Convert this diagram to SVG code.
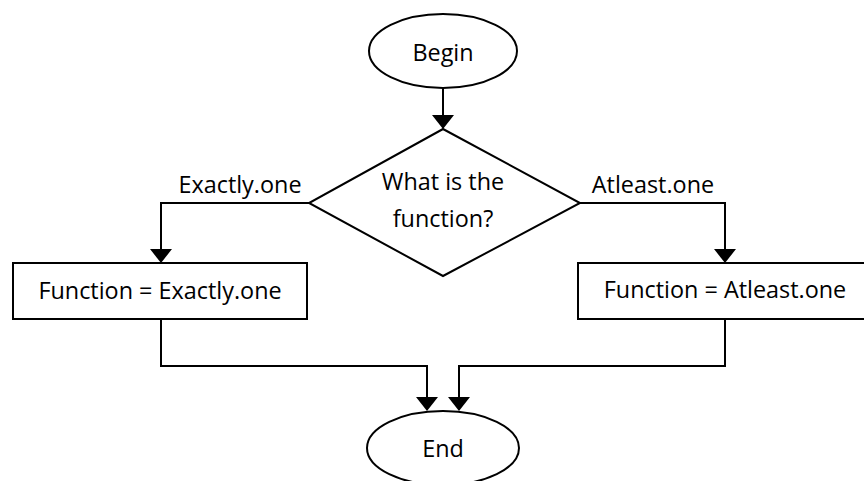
<svg xmlns="http://www.w3.org/2000/svg" width="864" height="481" viewBox="0 0 864 481">
  <defs>
    <style>
      .shape { fill: #fff; stroke: #000; stroke-width: 2; }
      .conn { fill: none; stroke: #000; stroke-width: 2; }
      .head { fill: #000; }
      .lbl { font-family: "Open Sans", "Liberation Sans", sans-serif; font-size: 23.4px; fill: #000; text-anchor: middle; }
    </style>
  </defs>
  <rect width="864" height="481" fill="#fff"/>

  <!-- connector lines with their filled arrowheads -->
  <g id="connectors">
    <path class="conn" d="M443,88 V116"/>
    <path class="head" d="M432,115 L454,115 L443,129 Z"/>
    <path class="conn" d="M309,203 H161 V250"/>
    <path class="head" d="M150,249 L172,249 L161,263 Z"/>
    <path class="conn" d="M580,203 H725 V250"/>
    <path class="head" d="M714,249 L736,249 L725,263 Z"/>
    <path class="conn" d="M161,319 V366 H427 V398"/>
    <path class="head" d="M416,397 L438,397 L427,411 Z"/>
    <path class="conn" d="M725,319 V366 H459 V398"/>
    <path class="head" d="M448,397 L470,397 L459,411 Z"/>
  </g>

  <g id="edge-label-exactly">
    <text class="lbl" x="240" y="193">Exactly.one</text>
  </g>
  <g id="edge-label-atleast">
    <text class="lbl" x="653" y="193">Atleast.one</text>
  </g>

  <g id="begin">
    <ellipse class="shape" cx="443" cy="51" rx="74" ry="37"/>
    <text class="lbl" x="443" y="61">Begin</text>
  </g>

  <g id="decision">
    <polygon class="shape" points="443,129 580,203 443,276 309,203"/>
    <text class="lbl" x="443" y="190">What is the</text>
    <text class="lbl" x="443" y="227">function?</text>
  </g>

  <g id="set-exactly">
    <rect class="shape" x="13" y="263" width="294" height="56"/>
    <text class="lbl" x="160" y="299">Function = Exactly.one</text>
  </g>

  <g id="set-atleast">
    <rect class="shape" x="578" y="263" width="296" height="56"/>
    <text class="lbl" x="725" y="298">Function = Atleast.one</text>
  </g>

  <g id="end">
    <ellipse class="shape" cx="443" cy="448" rx="76" ry="37"/>
    <text class="lbl" x="443" y="457">End</text>
  </g>
</svg>
